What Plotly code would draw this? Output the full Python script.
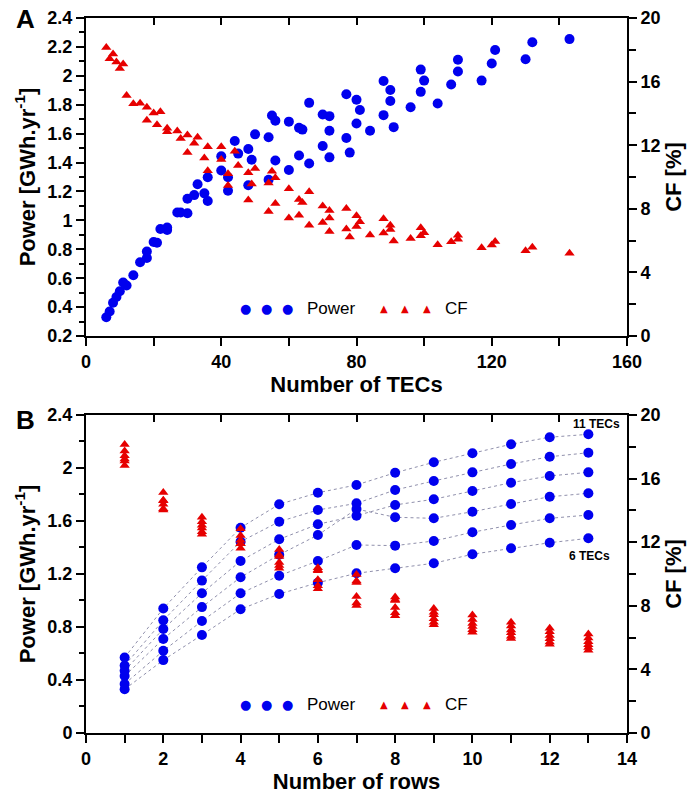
import plotly.graph_objects as go

# ---------------- data ----------------
rows = list(range(1, 14))
tecs_per_row = [6, 7, 8, 9, 10, 11]

# Power [GWh/yr] per number of TECs in a row (rows 1..13)
power_6 = [0.33, 0.55, 0.74, 0.934, 1.049, 1.134, 1.205, 1.243, 1.281, 1.349, 1.394, 1.436, 1.469]
power_7 = [0.37, 0.62, 0.845, 1.054, 1.187, 1.298, 1.419, 1.414, 1.449, 1.515, 1.570, 1.620, 1.645]
power_8 = [0.43, 0.71, 0.95, 1.175, 1.345, 1.494, 1.69, 1.628, 1.620, 1.670, 1.728, 1.783, 1.809]
power_9 = [0.47, 0.785, 1.055, 1.298, 1.462, 1.575, 1.64, 1.721, 1.764, 1.826, 1.889, 1.940, 1.967]
power_10 = [0.51, 0.85, 1.15, 1.444, 1.595, 1.683, 1.733, 1.834, 1.902, 1.967, 2.030, 2.085, 2.115]
power_11 = [0.57, 0.94, 1.25, 1.549, 1.726, 1.813, 1.872, 1.964, 2.043, 2.111, 2.179, 2.232, 2.254]

# Capacity factor [%]
cf_6 = [18.15, 15.13, 13.57, 12.84, 11.54, 10.39, 9.47, 8.55, 7.83, 7.42, 6.97, 6.58, 6.22]
cf_7 = [17.44, 14.61, 13.28, 12.42, 11.19, 10.20, 9.56, 8.33, 7.59, 7.14, 6.73, 6.36, 5.97]
cf_8 = [17.74, 14.64, 13.06, 12.12, 11.10, 10.27, 9.96, 8.39, 7.43, 6.89, 6.48, 6.13, 5.74]
cf_9 = [17.23, 14.39, 12.89, 11.90, 10.72, 9.63, 8.59, 7.89, 7.19, 6.70, 6.30, 5.93, 5.55]
cf_10 = [16.83, 14.03, 12.65, 11.91, 10.53, 9.26, 8.17, 7.57, 6.97, 6.49, 6.09, 5.73, 5.37]
cf_11 = [17.10, 14.10, 12.50, 11.62, 10.36, 9.07, 8.02, 7.37, 6.81, 6.33, 5.94, 5.58, 5.20]

power_by_n = {6: power_6, 7: power_7, 8: power_8, 9: power_9, 10: power_10, 11: power_11}
cf_by_n = {6: cf_6, 7: cf_7, 8: cf_8, 9: cf_9, 10: cf_10, 11: cf_11}

# ---------------- style ----------------
BLUE = "#0000ee"
RED = "#e60000"
LINE = "#9090ac"
FONT = "Liberation Sans, Arial, sans-serif"
TICKFONT = dict(family=FONT, size=18, color="black", weight="bold")
TITLEFONT = dict(family=FONT, size=22, color="black", weight="bold")

fig = go.Figure()

# ---------------- panel A ----------------
tecs_all, power_all, cf_all = [], [], []
for n in tecs_per_row:
    for r, p, c in zip(rows, power_by_n[n], cf_by_n[n]):
        tecs_all.append(n * r)
        power_all.append(p)
        cf_all.append(c)

fig.add_trace(go.Scatter(x=tecs_all, y=power_all, mode="markers",
                         marker=dict(color=BLUE, size=10),
                         xaxis="x", yaxis="y", showlegend=False, name="Power"))
fig.add_trace(go.Scatter(x=tecs_all, y=cf_all, mode="markers",
                         marker=dict(color=RED, size=9, symbol="triangle-up"),
                         xaxis="x", yaxis="y2", showlegend=False, name="CF"))
fig.add_trace(go.Scatter(x=[None], y=[None], xaxis="x2", yaxis="y",
                         showlegend=False, hoverinfo="skip"))

# ---------------- panel B ----------------
for n in tecs_per_row:
    fig.add_trace(go.Scatter(x=rows, y=power_by_n[n], mode="lines+markers",
                             line=dict(color=LINE, width=1, dash="dot"),
                             marker=dict(color=BLUE, size=10),
                             xaxis="x3", yaxis="y3", showlegend=False,
                             name=f"{n} TECs"))
for n in tecs_per_row:
    fig.add_trace(go.Scatter(x=rows, y=cf_by_n[n], mode="markers",
                             marker=dict(color=RED, size=9, symbol="triangle-up"),
                             xaxis="x3", yaxis="y4", showlegend=False,
                             name=f"CF {n} TECs"))
fig.add_trace(go.Scatter(x=[None], y=[None], xaxis="x4", yaxis="y3",
                         showlegend=False, hoverinfo="skip"))

base = dict(showline=True, linecolor="black", linewidth=2, ticks="outside",
            tickcolor="black", tickwidth=2, ticklen=8, showgrid=False,
            zeroline=False, tickfont=TICKFONT, automargin=False)


def minor(dt, ln=5, ticks="outside"):
    return dict(dtick=dt, ticks=ticks, ticklen=ln, tickwidth=2, tickcolor="black", showgrid=False)


top_a, bot_a = 1.0, 0.5552
top_b, bot_b = 0.4448, 0.0

fig.update_layout(
    width=694, height=796,
    margin=dict(l=86, r=67, t=18, b=63),
    plot_bgcolor="white", paper_bgcolor="white",
    showlegend=False,
    xaxis=dict(base, domain=[0, 1], anchor="y", range=[0, 160], tick0=0, dtick=40,
               minor=minor(20, 8),
               title=dict(text="Number of TECs", font=TITLEFONT, standoff=6)),
    xaxis2=dict(base, overlaying="x", side="top", anchor="y", range=[0, 160],
                tick0=0, dtick=20, ticks="inside", ticklen=7, showticklabels=False),
    yaxis=dict(base, domain=[bot_a, top_a], anchor="x", range=[0.2, 2.4], tick0=0.2,
               dtick=0.2, minor=minor(0.1, 5),
               title=dict(text="Power [GWh.yr<sup>-1</sup>]", font=TITLEFONT, standoff=6)),
    yaxis2=dict(base, overlaying="y", side="right", anchor="x", range=[0, 20],
                tick0=0, dtick=4, minor=minor(2, 7),
                title=dict(text="CF [%]", font=TITLEFONT, standoff=4)),
    xaxis3=dict(base, domain=[0, 1], anchor="y3", range=[0, 14], tick0=0, dtick=2,
                minor=minor(1, 8),
                title=dict(text="Number of rows", font=TITLEFONT, standoff=6)),
    xaxis4=dict(base, overlaying="x3", side="top", anchor="y3", range=[0, 160],
                tick0=0, dtick=20, ticks="inside", ticklen=7, showticklabels=False),
    yaxis3=dict(base, domain=[bot_b, top_b], anchor="x3", range=[0, 2.4], tick0=0,
                dtick=0.4, minor=minor(0.2, 5),
                title=dict(text="Power [GWh.yr<sup>-1</sup>]", font=TITLEFONT, standoff=6)),
    yaxis4=dict(base, overlaying="y3", side="right", anchor="x3", range=[0, 20],
                tick0=0, dtick=4, minor=minor(2, 7),
                title=dict(text="CF [%]", font=TITLEFONT, standoff=4)),
)

ann = []
# panel letters
ann.append(dict(text="<b>A</b>", x=-0.111, y=0.9986, xref="paper", yref="paper",
                showarrow=False, font=dict(family=FONT, size=26, color="black"),
                xanchor="center", yanchor="middle"))
ann.append(dict(text="<b>B</b>", x=-0.111, y=0.4378, xref="paper", yref="paper",
                showarrow=False, font=dict(family=FONT, size=26, color="black"),
                xanchor="center", yanchor="middle"))


# custom legends
def px2paper(px):
    return (px - 86) / 541.0


for ly in [0.5944, 0.0392]:
    for px in [245, 266, 287]:
        ann.append(dict(text="●", x=px2paper(px), y=ly, xref="paper", yref="paper",
                        showarrow=False, font=dict(family="DejaVu Sans", size=13, color=BLUE),
                        xanchor="center", yanchor="middle"))
    for px in [384, 405, 427]:
        ann.append(dict(text="▲", x=px2paper(px), y=ly, xref="paper", yref="paper",
                        showarrow=False, font=dict(family="DejaVu Sans", size=10, color=RED),
                        xanchor="center", yanchor="middle"))
    ann.append(dict(text="Power", x=px2paper(305), y=ly, xref="paper", yref="paper",
                    showarrow=False, font=dict(family=FONT, size=17, color="black"),
                    xanchor="left", yanchor="middle"))
    ann.append(dict(text="CF", x=px2paper(443), y=ly, xref="paper", yref="paper",
                    showarrow=False, font=dict(family=FONT, size=17, color="black"),
                    xanchor="left", yanchor="middle"))

ann.append(dict(text="<b>11 TECs</b>", x=13.22, y=2.33, xref="x3", yref="y3",
                showarrow=False, font=dict(family=FONT, size=12, color="black")))
ann.append(dict(text="<b>6 TECs</b>", x=13.04, y=1.336, xref="x3", yref="y3",
                showarrow=False, font=dict(family=FONT, size=12, color="black")))

fig.update_layout(annotations=ann)

fig.write_html("out.html")
